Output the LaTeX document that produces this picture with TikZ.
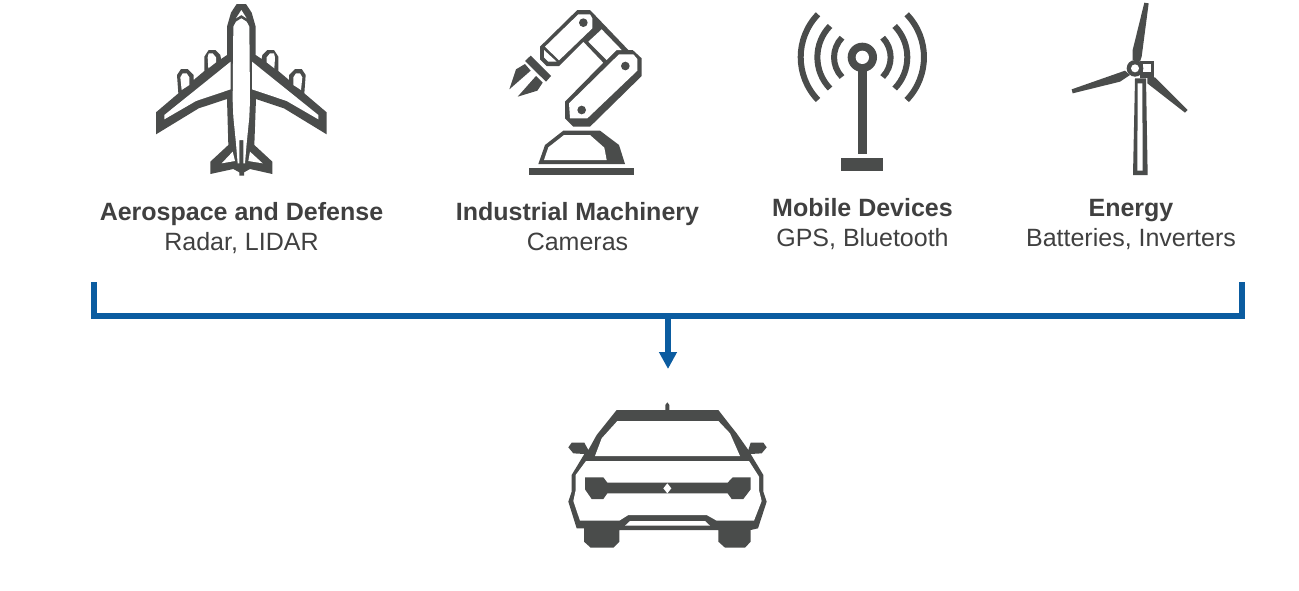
\documentclass[tikz,border=0pt]{standalone}
\usepackage{fontspec}
\setmainfont{Liberation Sans}
\usetikzlibrary{arrows.meta}
\definecolor{icondark}{HTML}{4A4C4B}
\definecolor{labeltext}{HTML}{404040}
\definecolor{linkblue}{HTML}{0B5CA0}
\tikzset{
  solidpart/.style={fill=icondark,draw=none},
  hole/.style={fill=white,draw=none},
  wave/.style={draw=icondark,line width=4.5pt},
  caption/.style={align=center,text=labeltext,font=\fontsize{18.75pt}{22.5pt}\selectfont,inner sep=0pt},
  bracket/.style={draw=linkblue,line width=4.4pt,line join=miter},
  stem/.style={draw=linkblue,line width=4.5pt,-{Triangle[length=12.75pt,width=12.75pt]}},
  iconscale/.style={x=.25pt,y=-.25pt}
}
\begin{document}
\begin{tikzpicture}[x=.75pt,y=-.75pt]
\useasboundingbox (0,0) rectangle (1299,590);
\fill[white] (0,0) rectangle (1299,590);

% Airplane
\begin{scope}[shift={(140,0)},iconscale]
\fill[solidpart] (290,12)--(318,12)--(335,38)--(347,80)--(347,165)--(365,177)--(367,165)--(382,150)--(402,150)--(415,170)--(415,213)--(447,240)--(447,225)--(465,207)--(485,207)--(497,225)--(493,280)--(560,337)--(560,403)--(432,325)--(348,297)--(343,435)--(397,485)--(397,522)--(330,507)--(312,517)--(312,527)--(298,527)--(298,517)--(280,507)--(211,522)--(211,485)--(265,435)--(261,297)--(176,325)--(48,403)--(48,337)--(115,280)--(111,225)--(123,207)--(143,207)--(161,225)--(161,240)--(193,213)--(193,170)--(206,150)--(226,150)--(241,165)--(243,177)--(261,165)--(261,80)--(273,38)--cycle;
\fill[hole] (304,30)--(320,55)--(304,45)--(288,55)--cycle;
\fill[hole] (280,80)--(288,65)--(304,55)--(320,65)--(328,80)--(330,300)--(328,350)--(320,430)--(315,490)--(310,490)--(310,420)--(298,420)--(298,490)--(293,490)--(288,430)--(280,350)--(278,300)--cycle;
\fill[hole] (336,185)--(535,345)--(535,358)--(440,303)--(336,268)--cycle;
\fill[hole] (272,185)--(73,345)--(73,358)--(168,303)--(272,268)--cycle;
\fill[hole] (380,172)--(390,160)--(402,160)--(405,172)--(403,205)--(380,187)--cycle;
\fill[hole] (460,232)--(468,220)--(480,220)--(487,232)--(483,270)--(460,255)--cycle;
\fill[hole] (228,172)--(218,160)--(206,160)--(203,172)--(205,205)--(228,187)--cycle;
\fill[hole] (148,232)--(140,220)--(128,220)--(121,232)--(125,270)--(148,255)--cycle;
\fill[hole] (330,455)--(368,490)--(325,483)--cycle;
\fill[hole] (278,455)--(245,490)--(285,483)--cycle;
\end{scope}

% Robot arm
\begin{scope}[shift={(490,0)},iconscale]
\fill[solidpart] (262,30)--(300,30)--(415,150)--(428,150)--(455,175)--(455,228)--(300,380)--(250,380)--(225,355)--(225,305)--(340,188)--(280,125)--(207,198)--(170,198)--(150,178)--(150,140)--cycle;
\fill[hole] (265,43)--(300,43)--(307,55)--(307,85)--(207,181)--(165,140)--cycle;
\fill[hole] (162,150)--(200,185)--(175,185)--(162,172)--cycle;
\fill[hole] (335,88)--(395,150)--(380,150)--(350,180)--(295,125)--cycle;
\fill[hole] (387,163)--(430,163)--(442,177)--(442,212)--(292,355)--(240,355)--(237,310)--cycle;
\fill[solidpart] (280,68) circle[radius=13];
\fill[solidpart] (406,198) circle[radius=13];
\fill[solidpart] (275,330) circle[radius=13];
\fill[solidpart] (122,167)--(183,228)--(168,245)--(105,183)--cycle;
\fill[solidpart] (58,268)--(78,208)--(105,192)--(122,212)--cycle;
\fill[solidpart] (83,290)--(138,228)--(158,248)--(142,272)--cycle;
\fill[solidpart] (220,392)--(330,392)--(387,435)--(405,492)--(145,492)--(165,435)--cycle;
\fill[hole] (222,405)--(300,405)--(343,443)--(350,480)--(162,480)--(175,442)--cycle;
\fill[solidpart] (118,505) rectangle (432,525);
\end{scope}

% Antenna
\begin{scope}[shift={(780,0)},iconscale]
\fill[solidpart] (247,172) circle[radius=44];
\fill[hole] (247,172) circle[radius=20];
\fill[solidpart] (235,205) rectangle (260,462);
\fill[solidpart] (184,474) rectangle (310,512);
\draw[wave] (186,113) arc[start angle=136,end angle=224,radius=21.25pt];
\draw[wave] (150,78) arc[start angle=136,end angle=224,radius=33.75pt];
\draw[wave] (114,43) arc[start angle=136,end angle=224,radius=46.25pt];
\draw[wave] (308,113) arc[start angle=44,end angle=-44,radius=21.25pt];
\draw[wave] (344,78) arc[start angle=44,end angle=-44,radius=33.75pt];
\draw[wave] (380,43) arc[start angle=44,end angle=-44,radius=46.25pt];
\end{scope}

% Wind turbine
\begin{scope}[shift={(1060,0)},iconscale]
\fill[solidpart] (225,235)--(258,235)--(263,525)--(219,525)--cycle;
\fill[hole] (233,250)--(247,250)--(248,512)--(232,512)--cycle;
\fill[solidpart] (240,182) rectangle (282,235);
\fill[hole] (250,193) rectangle (272,217);
\fill[solidpart] (225,205) circle[radius=25];
\fill[hole] (225,205) circle[radius=12];
\fill[solidpart] (253,8)--(266,10)--(245,170)--(240,185)--(218,180)--(218,150)--cycle;
\fill[solidpart] (35,268)--(195,212)--(210,225)--(180,245)--(38,280)--cycle;
\fill[solidpart] (262,230)--(285,232)--(383,330)--(375,338)--(262,250)--cycle;
\end{scope}

% Car
\begin{scope}[shift={(560,395)},iconscale]
\fill[solidpart] (316,45)--(316,30)--(322,22)--(328,30)--(328,45)--(475,45)--(510,90)--(530,115)--(565,165)--(572,143)--(610,143)--(620,157)--(605,175)--(572,177)--(610,240)--(610,290)--(620,320)--(594,400)--(572,405)--(572,440)--(555,458)--(495,458)--(475,440)--(475,405)--(178,405)--(178,440)--(160,458)--(92,458)--(72,440)--(72,400)--(50,400)--(25,320)--(35,290)--(35,240)--(73,177)--(40,175)--(25,157)--(35,143)--(73,143)--(85,165)--(110,120)--(170,45)--cycle;
\fill[hole] (172,78)--(475,78)--(510,115)--(540,183)--(105,183)--(125,130)--cycle;
\fill[hole] (78,198)--(567,198)--(597,245)--(597,285)--(605,318)--(582,377)--(470,377)--(440,360)--(205,360)--(178,377)--(60,377)--(40,318)--(47,285)--(47,240)--cycle;
\fill[hole] (210,378)--(435,378)--(450,392)--(195,392)--cycle;
\fill[solidpart] (75,247)--(130,247)--(142,263)--(503,263)--(518,247)--(572,247)--(572,283)--(550,312)--(515,312)--(503,295)--(142,295)--(130,312)--(95,312)--(75,283)--cycle;
\fill[hole] (322,265)--(334,280)--(322,295)--(310,280)--cycle;
\end{scope}

% Captions
\node[caption] (aero) at (241.5,228) {\textbf{Aerospace and Defense}\\Radar, LIDAR};
\node[caption] (indu) at (577.5,227) {\textbf{Industrial Machinery}\\Cameras};
\node[caption] (mobi) at (862.5,224) {\textbf{Mobile Devices}\\GPS, Bluetooth};
\node[caption] (ener) at (1131,224) {\textbf{Energy}\\Batteries, Inverters};

% Connector
\coordinate (bl) at (94,282);
\coordinate (br) at (1242,282);
\coordinate (jn) at (668,316);
\coordinate (tip) at (668,369);
\draw[bracket] (bl) -- (bl|-jn) -- (br|-jn) -- (br);
\draw[stem] (jn) -- (tip);
\end{tikzpicture}
\end{document}
